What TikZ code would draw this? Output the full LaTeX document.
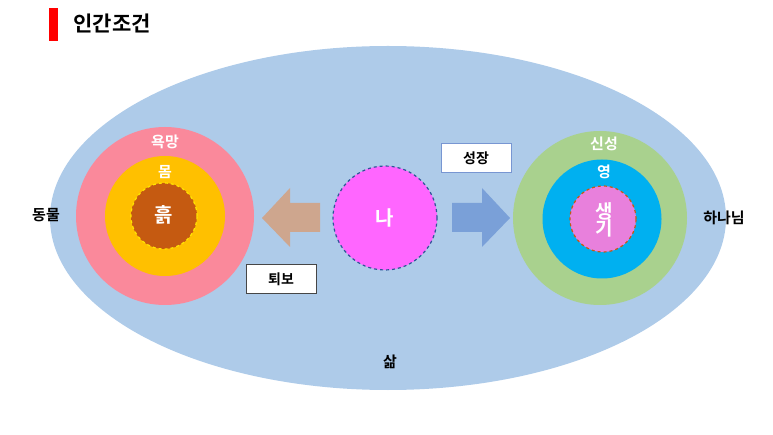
\documentclass[tikz,border=0pt]{standalone}
\usepackage{fontspec}
\usetikzlibrary{shapes.geometric}
\setmainfont{Noto Sans CJK KR}[BoldFont={* Bold}]
\definecolor{cLife}{RGB}{174,203,233}
\definecolor{cDesire}{RGB}{250,137,155}
\definecolor{cBody}{RGB}{255,192,0}
\definecolor{cSoil}{RGB}{197,90,17}
\definecolor{cYel}{RGB}{255,230,0}
\definecolor{cDiv}{RGB}{169,209,142}
\definecolor{cSpirit}{RGB}{0,176,240}
\definecolor{cVital}{RGB}{232,128,220}
\definecolor{cMe}{RGB}{255,102,255}
\definecolor{cMeB}{RGB}{47,85,151}
\definecolor{cTan}{RGB}{206,166,142}
\definecolor{cArrB}{RGB}{122,160,216}
\definecolor{cGrayB}{RGB}{70,70,70}
\definecolor{cBlueB}{RGB}{120,150,210}
\begin{document}
\begin{tikzpicture}[x=1pt,y=-1pt,
  lbl/.style={font=\bfseries\fontsize{15}{15}\selectfont},
  wlbl/.style={lbl,text=white},
  tagbox/.style={draw=#1,fill=white,line width=1pt,minimum width=70pt,minimum height=29pt,font=\bfseries\fontsize{14}{14}\selectfont}]
\useasboundingbox (0,0) rectangle (773,435);
\fill[red] (49,8) rectangle (58,41);
\node[anchor=west,font=\bfseries\fontsize{21}{21}\selectfont] (title) at (70,23) {인간조건};
\node[ellipse,fill=cLife,inner sep=0pt,minimum width=676pt,minimum height=344pt] (life) at (388,218) {};
% left
\node[circle,fill=cDesire,minimum size=178pt] (desire) at (165,216) {};
\node[circle,fill=cBody,minimum size=120pt] (body) at (165,216) {};
\node[circle,fill=cSoil,draw=cYel,dashed,line width=1.2pt,minimum size=66pt] (soil) at (164,216) {};
\node[wlbl] at (165,142) {욕망};
\node[wlbl] at (165,172) {몸};
\node[wlbl,font=\bfseries\fontsize{20}{20}\selectfont] at (164,215) {흙};
% right
\node[circle,fill=cDiv,minimum size=174pt] (divine) at (600,218) {};
\node[circle,fill=cSpirit,minimum size=119pt] (spirit) at (602,219) {};
\node[circle,fill=cVital,draw=cSoil,dashed,line width=1.2pt,minimum size=66pt] (life2) at (603,219) {};
\node[wlbl] at (604,144) {신성};
\node[wlbl] at (604,172) {영};
\node[wlbl,font=\bfseries\fontsize{19}{19}\selectfont,align=center] at (604,220) {생\\[-2pt]기};
% center
\node[circle,fill=cMe,draw=cMeB,dashed,line width=1.2pt,minimum size=104pt,text=white,font=\bfseries\fontsize{20}{20}\selectfont] (me) at (385,218) {나};
% arrows
\fill[cTan] (320,203) -- (290,203) -- (290,188) -- (262,218) -- (290,247) -- (290,232) -- (320,232) -- cycle;
\fill[cArrB] (452,203) -- (482,203) -- (482,188) -- (510,218) -- (482,247) -- (482,232) -- (452,232) -- cycle;
\node[tagbox=cGrayB] (back) at (281,279) {퇴보};
\node[tagbox=cBlueB] (grow) at (476,158) {성장};
\node[lbl] (animal) at (46,215) {동물};
\node[lbl] (god) at (724,218) {하나님};
\node[lbl] (sam) at (390,362) {삶};
\end{tikzpicture}
\end{document}
